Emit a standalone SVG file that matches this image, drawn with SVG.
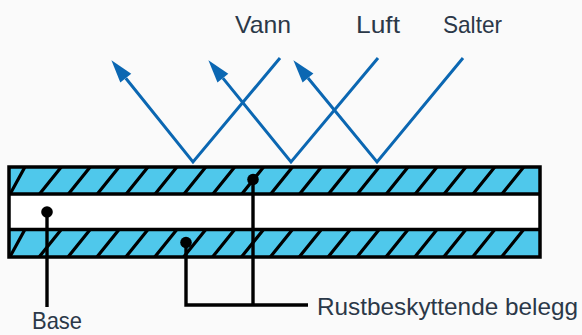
<svg xmlns="http://www.w3.org/2000/svg" width="582" height="335" viewBox="0 0 582 335">
  <style>
    .lbl { font-family: "Liberation Sans", Arial, sans-serif; font-size: 24px; fill: #2b3848; }
    .band { fill: #4fc8eb; }
    .hatch { stroke: #000; stroke-width: 3.2; fill: none; }
    .frame { stroke: #000; stroke-width: 3.5; fill: none; }
    .ray { stroke: #0b67b2; stroke-width: 3; fill: none; stroke-linejoin: miter; }
    .lead { stroke: #000; stroke-width: 3.4; fill: none; }
    .dot { fill: #000; }
  </style>
  <defs>
    <marker id="ah" markerUnits="userSpaceOnUse" markerWidth="30" markerHeight="20" refX="0" refY="10" viewBox="0 0 30 20" orient="auto" overflow="visible">
      <path d="M0,3 L23,10 L0,17 z" fill="#0b67b2"/>
    </marker>
    <clipPath id="bandClip">
      <rect x="9" y="0" width="531" height="27.5"/>
    </clipPath>
    <g id="hatches" clip-path="url(#bandClip)">
      <path class="hatch" d="M9,29 L26,-2 M37.9,29 L62.9,-2 M66.8,29 L91.8,-2 M95.7,29 L120.7,-2 M124.6,29 L149.6,-2 M153.5,29 L178.5,-2 M182.4,29 L207.4,-2 M211.3,29 L236.3,-2 M240.2,29 L265.2,-2 M269.1,29 L294.1,-2 M298,29 L323,-2 M326.9,29 L351.9,-2 M355.8,29 L380.8,-2 M384.7,29 L409.7,-2 M413.6,29 L438.6,-2 M442.5,29 L467.5,-2 M471.4,29 L496.4,-2 M500.3,29 L525.3,-2"/>
    </g>
  </defs>

  <rect x="0" y="0" width="582" height="335" fill="#fafafa"/>

  <g id="rays">
    <path class="ray" d="M280,58 L193,162 L125.8,78.2" marker-end="url(#ah)"/>
    <path class="ray" d="M378,58 L291,162 L222.9,78.1" marker-end="url(#ah)"/>
    <path class="ray" d="M463,58 L377,162 L308,78" marker-end="url(#ah)"/>
  </g>

  <g id="plate">
    <rect x="9" y="167" width="531" height="90" fill="#ffffff"/>
    <g id="top-coating">
      <rect class="band" x="9" y="167" width="531" height="27"/>
      <use href="#hatches" transform="translate(0,167)"/>
    </g>
    <g id="bottom-coating">
      <rect class="band" x="9" y="229.5" width="531" height="27.5"/>
      <use href="#hatches" transform="translate(0,229.5)"/>
    </g>
    <rect class="frame" x="9" y="167" width="531" height="90"/>
    <line class="frame" x1="9" y1="194" x2="540" y2="194"/>
    <line class="frame" x1="9" y1="229.5" x2="540" y2="229.5"/>
  </g>

  <g id="connectors">
    <path class="lead" d="M47,212 V307"/>
    <path class="lead" d="M186,242.5 V305 H308"/>
    <path class="lead" d="M253,179.5 V305"/>
    <circle class="dot" cx="47" cy="212" r="5.8"/>
    <circle class="dot" cx="186" cy="242.5" r="5.8"/>
    <circle class="dot" cx="253" cy="179.5" r="5.8"/>
  </g>

  <g id="label-vann"><text class="lbl" x="235" y="33" textLength="56" lengthAdjust="spacingAndGlyphs">Vann</text></g>
  <g id="label-luft"><text class="lbl" x="356" y="33" textLength="44" lengthAdjust="spacingAndGlyphs">Luft</text></g>
  <g id="label-salter"><text class="lbl" x="443" y="33" textLength="59" lengthAdjust="spacingAndGlyphs">Salter</text></g>
  <g id="label-base"><text class="lbl" x="32" y="329" textLength="50" lengthAdjust="spacingAndGlyphs">Base</text></g>
  <g id="label-coating"><text class="lbl" x="317" y="315" textLength="261" lengthAdjust="spacingAndGlyphs">Rustbeskyttende belegg</text></g>
</svg>
